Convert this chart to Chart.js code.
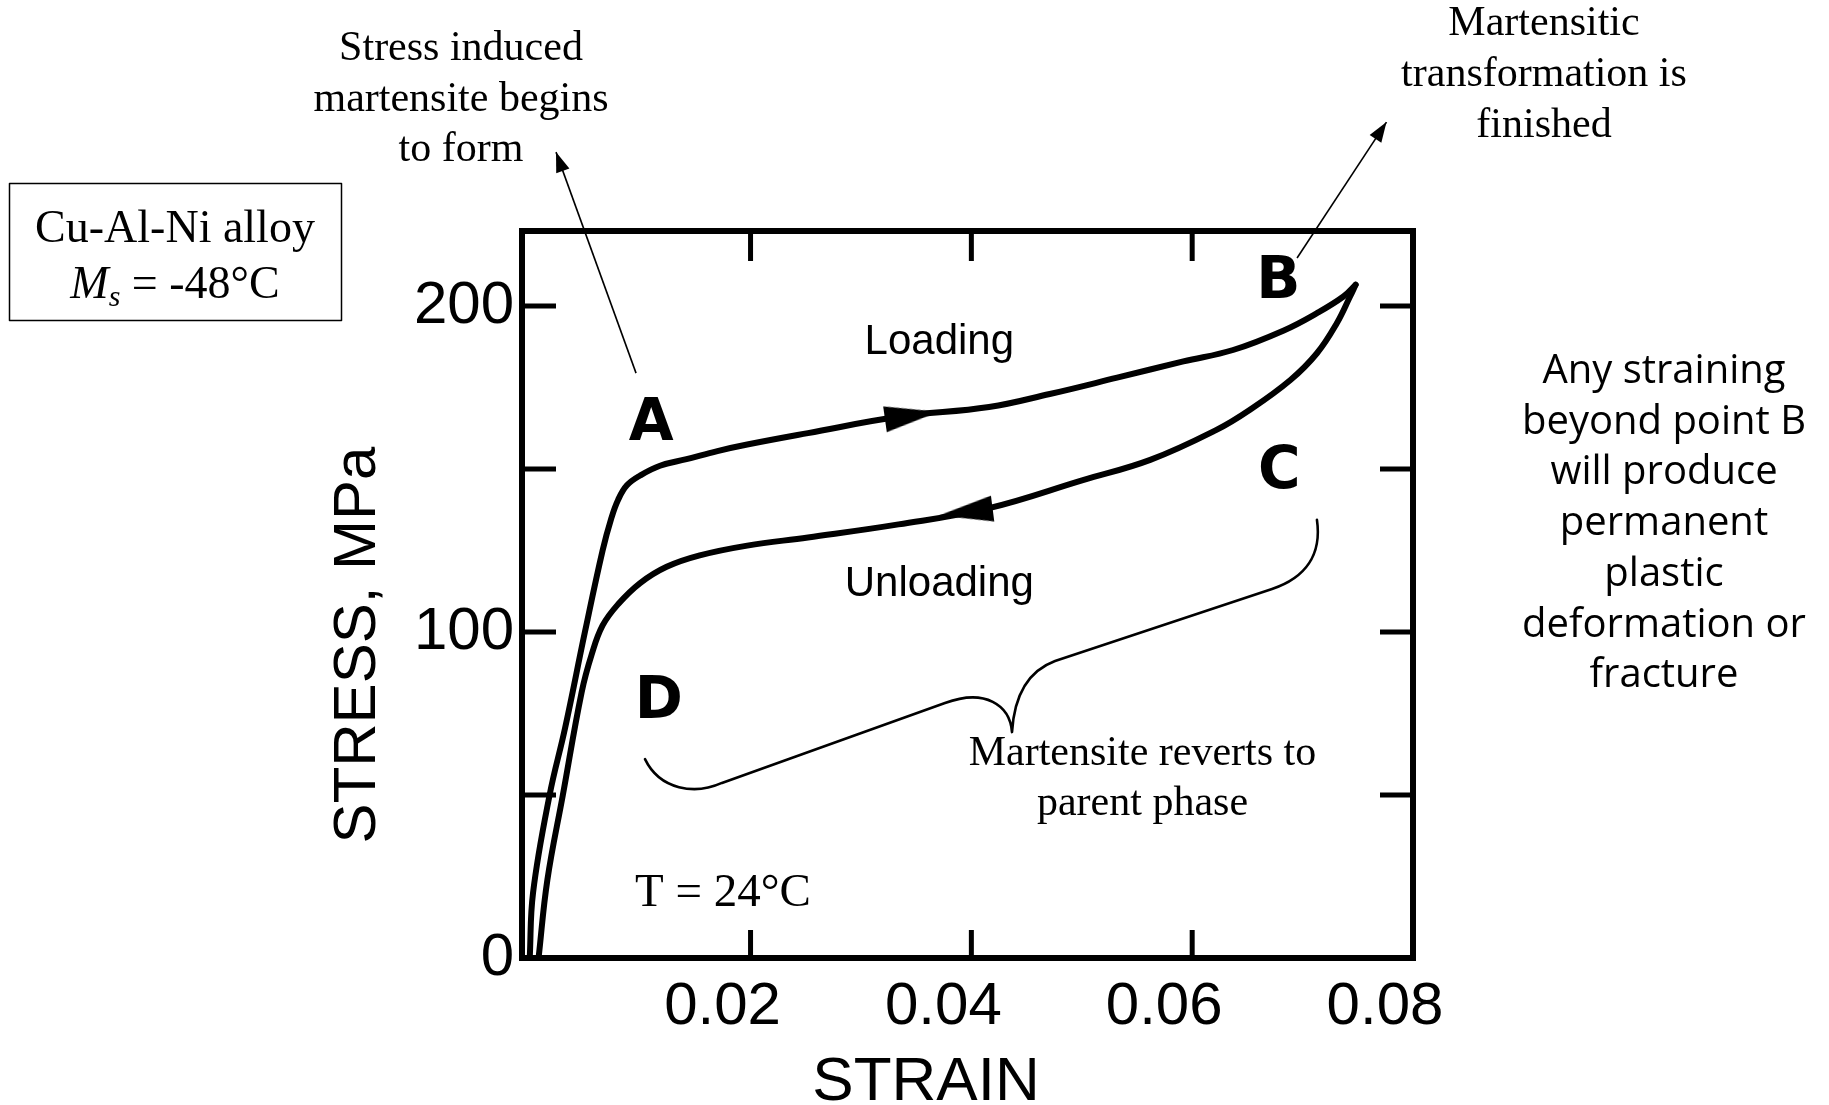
<!DOCTYPE html>
<html><head><meta charset="utf-8">
<script src="https://cdn.jsdelivr.net/npm/chart.js@4.4.0/dist/chart.umd.min.js"></script>
<style>html,body{margin:0;padding:0;background:#fff;overflow:hidden}canvas{display:block}</style>
</head><body>
<canvas id="c" width="1829" height="1105" style="width:1829px;height:1105px"></canvas>
<script>
// ---- data ----
const loadingStrain = [0.0000, 0.0003, 0.0018, 0.0032, 0.0050, 0.0066, 0.0074, 0.0080, 0.0088, 0.0100, 0.0118, 0.0142, 0.0170, 0.0197, 0.0252, 0.0334, 0.0416, 0.0471, 0.0532, 0.0592, 0.0637, 0.0683, 0.0713, 0.0737, 0.0748];
const loadingStress = [0, 20, 50, 70.5, 100, 125, 135, 140.5, 145, 148, 151, 153, 155.5, 157.5, 161, 166, 169, 173, 178, 183, 186.5, 192.5, 197.8, 202.9, 206.5];
const unloadingStrain = [0.0748, 0.0743, 0.0731, 0.0713, 0.0689, 0.0652, 0.0622, 0.0562, 0.0501, 0.0416, 0.0334, 0.0252, 0.0197, 0.0154, 0.0124, 0.0100, 0.0080, 0.0066, 0.0056, 0.0047, 0.0030, 0.0016, 0.0008];
const unloadingStress = [206.5, 202.9, 194.7, 185.5, 177.3, 168.1, 162, 152.8, 146.6, 138, 133, 129, 126.5, 123.5, 120, 115, 108.5, 102, 93, 81.5, 50, 24, 0];
const arrowStrain = [0.0346, 0.0395];
const arrowStress = [166.4, 136.8];
const xTickValues = [0.02, 0.04, 0.06, 0.08];
const xTickLabels = ['0.02', '0.04', '0.06', '0.08'];
const yTickValues = [0, 50, 100, 150, 200];
const yTickLabels = ['0', '', '100', '', '200'];
const xMarkValues = [0.02, 0.04, 0.06];
const yMarkValues = [50, 100, 150, 200];

// ---- annotation layout (positions in data units inside the plot) ----
const notes = {
  letters: [
    {t: 'A', x: 0.0110, y: 165.3},
    {t: 'B', x: 0.0678, y: 208.9},
    {t: 'C', x: 0.0679, y: 150.7},
    {t: 'D', x: 0.0117, y: 80.1}
  ],
  plain: [
    {t: 'Loading', x: 0.0371, y: 185.4},
    {t: 'Unloading', x: 0.0371, y: 111.0}
  ],
  serif: [
    {t: 'Martensite reverts to', x: 0.0555, y: 59.2},
    {t: 'parent phase', x: 0.0555, y: 43.8},
    {t: 'T = 24\u00B0C', x: 0.0175, y: 16.0, big: true}
  ],
  arrowA: {x1: 0.00963, y1: 179.4, x2: 0.00238, y2: 247.2},
  arrowB: {x1: 0.0695, y1: 214.7, x2: 0.0776, y2: 256.4},
  brace: [
    [0.01044, 61.0],
    [0.01180, 51.5, 0.01497, 50.0, 0.01741, 53.7],
    [0.03761, 78.2],
    [0.04123, 82.8, 0.04350, 77.6, 0.04368, 69.3],
    [0.04386, 79.1, 0.04486, 87.7, 0.04758, 91.1],
    [0.06723, 113.2],
    [0.07022, 116.6, 0.07176, 123.6, 0.07130, 134.4]
  ]
};

function makeArrowSprite() {
  const c = document.createElement('canvas');
  c.width = 54; c.height = 26;
  const g = c.getContext('2d');
  g.fillStyle = '#000';
  g.beginPath(); g.moveTo(0, 0); g.lineTo(54, 13); g.lineTo(0, 26); g.closePath(); g.fill();
  return c;
}
const sprite = makeArrowSprite();

const SERIF = '"Liberation Serif", "Times New Roman", serif';
const SANS = '"Liberation Sans", Arial, sans-serif';

function drawArrow(ctx, x1, y1, x2, y2) {
  ctx.lineWidth = 1.6;
  ctx.beginPath(); ctx.moveTo(x1, y1); ctx.lineTo(x2, y2); ctx.stroke();
  const ang = Math.atan2(y2 - y1, x2 - x1), L = 20, W = 7;
  ctx.beginPath();
  ctx.moveTo(x2, y2);
  ctx.lineTo(x2 - L * Math.cos(ang) + W * Math.sin(ang), y2 - L * Math.sin(ang) - W * Math.cos(ang));
  ctx.lineTo(x2 - L * Math.cos(ang) - W * Math.sin(ang), y2 - L * Math.sin(ang) + W * Math.cos(ang));
  ctx.closePath(); ctx.fill();
}

const deco = {
  id: 'deco',
  afterDraw(chart) {
    const {ctx, chartArea: a, scales: {x, y}} = chart;
    const X = v => x.getPixelForValue(v), Y = v => y.getPixelForValue(v);
    ctx.save();
    ctx.strokeStyle = '#000'; ctx.fillStyle = '#000';
    // frame
    ctx.lineWidth = 6; ctx.lineJoin = 'miter';
    ctx.strokeRect(a.left, a.top, a.right - a.left, a.bottom - a.top);
    // inward tick marks
    ctx.lineWidth = 5; ctx.lineCap = 'butt';
    const seg = (x1, y1, x2, y2) => { ctx.beginPath(); ctx.moveTo(x1, y1); ctx.lineTo(x2, y2); ctx.stroke(); };
    xMarkValues.forEach(v => { const p = X(v); seg(p, a.top, p, a.top + 30); seg(p, a.bottom, p, a.bottom - 28); });
    yMarkValues.forEach(v => { const p = Y(v); seg(a.left, p, a.left + 34, p); seg(a.right, p, a.right - 33, p); });

    // letters
    ctx.textAlign = 'center'; ctx.textBaseline = 'alphabetic';
    ctx.font = 'bold 58px "DejaVu Sans", sans-serif';
    notes.letters.forEach(n => ctx.fillText(n.t, X(n.x), Y(n.y) + 21));
    ctx.font = '42px ' + SANS;
    notes.plain.forEach(n => ctx.fillText(n.t, X(n.x), Y(n.y)));
    notes.serif.forEach(n => { ctx.font = (n.big ? '47px ' : '42px ') + SERIF; ctx.fillText(n.t, X(n.x), Y(n.y)); });

    // brace
    ctx.lineWidth = 2.6; ctx.lineCap = 'round'; ctx.lineJoin = 'round';
    ctx.beginPath();
    notes.brace.forEach((p, i) => {
      if (i === 0) ctx.moveTo(X(p[0]), Y(p[1]));
      else if (p.length === 2) ctx.lineTo(X(p[0]), Y(p[1]));
      else ctx.bezierCurveTo(X(p[0]), Y(p[1]), X(p[2]), Y(p[3]), X(p[4]), Y(p[5]));
    });
    ctx.stroke();

    // pointer arrows
    ctx.lineCap = 'butt';
    [notes.arrowA, notes.arrowB].forEach(r => drawArrow(ctx, X(r.x1), Y(r.y1), X(r.x2), Y(r.y2)));

    // top captions
    ctx.font = '42px ' + SERIF; ctx.textAlign = 'center';
    ['Stress induced', 'martensite begins', 'to form'].forEach((s, i) => ctx.fillText(s, 461, 60 + i * 50.5));
    ['Martensitic', 'transformation is', 'finished'].forEach((s, i) => ctx.fillText(s, 1544, 35 + i * 51));

    // alloy box
    ctx.lineWidth = 1.5;
    ctx.strokeRect(9.5, 183.5, 332, 137);
    ctx.font = '46px ' + SERIF;
    ctx.fillText('Cu-Al-Ni alloy', 175, 242);
    ctx.font = 'italic 46px ' + SERIF; const wM = ctx.measureText('M').width;
    ctx.font = 'italic 30px ' + SERIF; const ws = ctx.measureText('s').width;
    ctx.font = '46px ' + SERIF; const wr = ctx.measureText(' = -48\u00B0C').width;
    let sx = 175 - (wM + ws + wr) / 2;
    ctx.textAlign = 'left';
    ctx.font = 'italic 46px ' + SERIF; ctx.fillText('M', sx, 298); sx += wM;
    ctx.font = 'italic 30px ' + SERIF; ctx.fillText('s', sx, 306); sx += ws;
    ctx.font = '46px ' + SERIF; ctx.fillText(' = -48\u00B0C', sx, 298);

    // right note
    ctx.textAlign = 'center';
    ctx.font = '40px "Comic Sans MS", "Open Sans", sans-serif';
    ['Any straining', 'beyond point B', 'will produce', 'permanent', 'plastic', 'deformation or', 'fracture']
      .forEach((s, i) => ctx.fillText(s, 1664, 383 + i * 50.7));

    // axis titles
    ctx.font = '62px ' + SANS;
    ctx.fillText('STRAIN', 926, 1100);
    ctx.save();
    ctx.translate(375, 645); ctx.rotate(-Math.PI / 2);
    ctx.font = '60px ' + SANS;
    ctx.fillText('STRESS, MPa', 0, 0);
    ctx.restore();

    ctx.restore();
  }
};

const lineStyle = {borderColor: '#000', borderWidth: 6, pointRadius: 0, showLine: true, tension: 0.4,
  borderJoinStyle: 'round', borderCapStyle: 'round', fill: false};

new Chart(document.getElementById('c'), {
  type: 'scatter',
  data: {
    datasets: [
      Object.assign({label: 'Loading', data: loadingStrain.map((v, i) => ({x: v, y: loadingStress[i]}))}, lineStyle),
      Object.assign({label: 'Unloading', data: unloadingStrain.map((v, i) => ({x: v, y: unloadingStress[i]}))}, lineStyle),
      {label: 'Loading direction', data: [{x: arrowStrain[0], y: arrowStress[0]}], pointStyle: sprite, rotation: -8, pointRadius: 20, showLine: false},
      {label: 'Unloading direction', data: [{x: arrowStrain[1], y: arrowStress[1]}], pointStyle: sprite, rotation: 172.6, pointRadius: 20, showLine: false}
    ]
  },
  options: {
    responsive: false, animation: false, devicePixelRatio: 1,
    layout: {padding: {left: 0, top: 231, right: 416, bottom: 0}},
    plugins: {legend: {display: false}, tooltip: {enabled: false}},
    scales: {
      x: {
        type: 'linear', min: -0.0007, max: 0.08,
        grid: {display: false, drawTicks: false}, border: {display: false},
        afterBuildTicks: s => { s.ticks = xTickValues.map(v => ({value: v})); },
        afterFit: s => { s.height = 147; },
        ticks: {autoSkip: false, maxRotation: 0, minRotation: 0, padding: 13, labelOffset: -28,
          color: '#000', font: {family: 'Liberation Sans', size: 60},
          callback: (v, i) => xTickLabels[i]}
      },
      y: {
        type: 'linear', min: 0, max: 223,
        grid: {display: false, drawTicks: false}, border: {display: false},
        afterBuildTicks: s => { s.ticks = yTickValues.map(v => ({value: v})); },
        afterFit: s => { s.width = 522; },
        ticks: {autoSkip: false, padding: 8, color: '#000', font: {family: 'Liberation Sans', size: 60},
          callback: (v, i) => yTickLabels[i]}
      }
    }
  },
  plugins: [deco]
});
</script>
</body></html>
